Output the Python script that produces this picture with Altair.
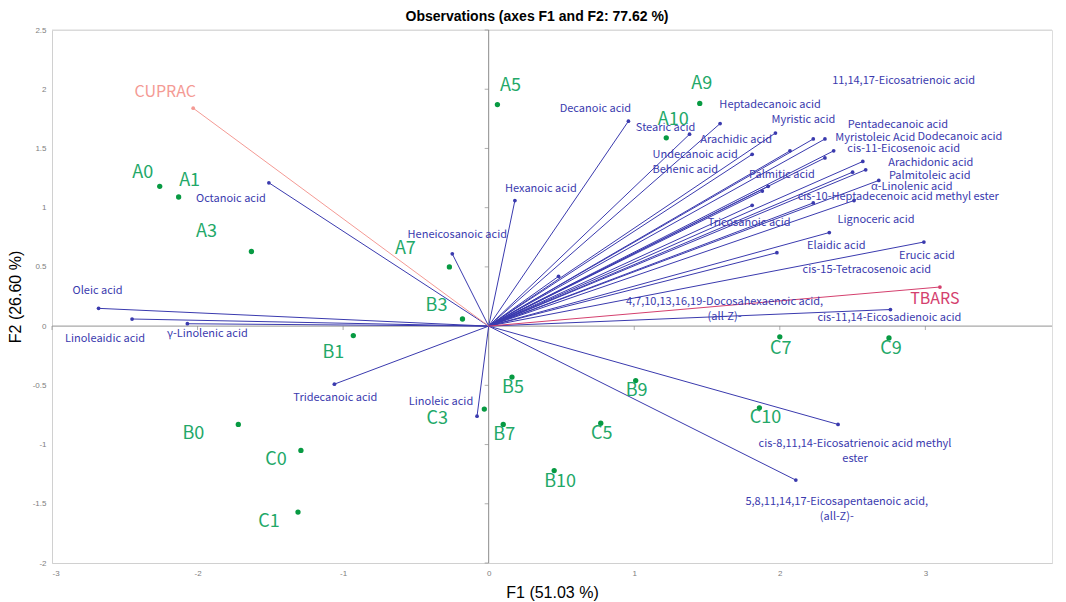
import altair as alt
import pandas as pd

# ---------------- data ----------------
obs_names = ["A0", "A1", "A3", "A5", "A7", "A9", "A10",
             "B0", "B1", "B3", "B5", "B7", "B9", "B10",
             "C0", "C1", "C3", "C5", "C7", "C9", "C10"]
obs_f1 = [-2.26, -2.13, -1.63, 0.06, -0.27, 1.45, 1.22,
          -1.72, -0.93, -0.18, 0.16, 0.10, 1.01, 0.45,
          -1.29, -1.31, -0.03, 0.77, 2.00, 2.75, 1.86]
obs_f2 = [1.18, 1.09, 0.63, 1.87, 0.50, 1.88, 1.59,
          -0.83, -0.08, 0.06, -0.43, -0.83, -0.46, -1.22,
          -1.05, -1.57, -0.70, -0.82, -0.09, -0.10, -0.69]

var_names = [
    "Oleic acid", "Linoleaidic acid", "γ-Linolenic acid", "Octanoic acid",
    "Tridecanoic acid", "Linoleic acid", "Heneicosanoic acid", "Hexanoic acid",
    "Decanoic acid", "Stearic acid", "Heptadecanoic acid", "Myristic acid",
    "Arachidic acid", "Undecanoic acid", "Behenic acid", "Myristoleic Acid",
    "Pentadecanoic acid", "Dodecanoic acid", "cis-11-Eicosenoic acid", "Palmitic acid",
    "Arachidonic acid", "Palmitoleic acid", "11,14,17-Eicosatrienoic acid", "α-Linolenic acid",
    "cis-10-Heptadecenoic acid methyl ester", "Lignoceric acid", "Tricosanoic acid", "Elaidic acid",
    "Erucic acid", "cis-15-Tetracosenoic acid", "4,7,10,13,16,19-Docosahexaenoic acid,\n(all-Z)-",
    "cis-11,14-Eicosadienoic acid", "cis-8,11,14-Eicosatrienoic acid methyl\nester",
    "5,8,11,14,17-Eicosapentaenoic acid,\n(all-Z)-", "CUPRAC", "TBARS"]
var_f1 = [-2.68, -2.45, -2.07, -1.51,
          -1.06, -0.08, -0.25, 0.18,
          0.96, 1.38, 1.59, 1.97,
          1.81, 1.92, 1.88, 2.23,
          2.31, 2.31, 2.37, 2.07,
          2.57, 2.59, 2.50, 2.68,
          2.23, 2.51, 1.81, 2.34,
          2.99, 1.98, 0.48,
          2.76, 2.40,
          2.11, -2.03, 3.10]
var_f2 = [0.15, 0.06, 0.02, 1.21,
          -0.49, -0.76, 0.61, 1.06,
          1.73, 1.62, 1.71, 1.63,
          1.45, 1.18, 1.14, 1.58,
          1.58, 1.42, 1.48, 1.48,
          1.39, 1.32, 1.30, 1.23,
          1.04, 1.06, 1.02, 0.79,
          0.71, 0.62, 0.42,
          0.14, -0.83,
          -1.30, 1.84, 0.33]
var_group = ["acid"] * 34 + ["CUPRAC", "TBARS"]

x_ticks = [-3, -2, -1, 0, 1, 2, 3]
y_ticks = [-2, -1.5, -1, -0.5, 0, 0.5, 1, 1.5, 2, 2.5]

# ---------------- layout (label placement, pixels) ----------------
obs_label_dx = [-17, 11, -45, 13, -44, 2, 7,
                -45, -20, -26, 1, 1, 1, 6,
                -25, -29, -47, 1, 1, 2, 6]
obs_label_dy = [-13, -16, -19, -19, -18, -19, -18,
                10, 17, -13, 11, 11, 10, 11,
                10, 10, 10, 11, 12, 11, 10]
var_label_dx = [-1, -27, 20, -38,
                1, -36, 5, 26,
                -33, -24, 50, 28,
                -16, -73, -77, 62,
                73, 135, 70, -8,
                68, 64, 51, 33,
                85, 22, -3, 7,
                3, 90, 166,
                -1, 17,
                41, -28, -5]
var_label_dy = [-17, 20, 10, 16,
                14, -14, -19, -12,
                -12, -6, -19, -13,
                -14, -31, -21, -1,
                -14, -21, -2, 24,
                2, 6, -91, 7,
                -6, 19, 18, 13,
                14, 17, 26,
                8, 20,
                22, -16, 12]

XMIN, XMAX = -3, 3.87
YMIN, YMAX = -2, 2.5
W, H = 1000, 533
PX_X = W / (XMAX - XMIN)
PX_Y = H / (YMAX - YMIN)

obs = pd.DataFrame({"name": obs_names, "f1": obs_f1, "f2": obs_f2,
                    "dx": obs_label_dx, "dy": obs_label_dy})
var = pd.DataFrame({"name": var_names, "f1": var_f1, "f2": var_f2, "group": var_group,
                    "dx": var_label_dx, "dy": var_label_dy})
xt = pd.DataFrame({"v": x_ticks})
yt = pd.DataFrame({"v": y_ticks})

xs = alt.Scale(domain=[XMIN, XMAX], nice=False, zero=False)
ys = alt.Scale(domain=[YMIN, YMAX], nice=False, zero=False)

FONT = "Noto Sans CJK SC"
label_expr = "replace(datum.label, '\u2212', '-')"

X = alt.X("f1:Q", scale=xs,
          axis=alt.Axis(values=x_ticks, format="~g", title="F1 (51.03 %)", grid=False, ticks=False,
                        domainColor="#d0d0d0", labelColor="#808080", labelFontSize=8,
                        labelFont="Liberation Sans", labelPadding=6, labelExpr=label_expr,
                        titleFont="Liberation Sans", titleFontSize=16, titleFontWeight="normal",
                        titleColor="#000000", titlePadding=7))
Y = alt.Y("f2:Q", scale=ys,
          axis=alt.Axis(values=y_ticks, format="~g", title="F2 (26.60 %)", grid=False, ticks=False,
                        domainColor="#d0d0d0", labelColor="#808080", labelFontSize=8,
                        labelFont="Liberation Sans", labelPadding=6, labelExpr=label_expr,
                        titleFont="Liberation Sans", titleFontSize=16, titleFontWeight="normal",
                        titleColor="#000000", titlePadding=9))

line_color = alt.Color("group:N", legend=None,
                       scale=alt.Scale(domain=["acid", "CUPRAC", "TBARS"],
                                       range=["#3a3aae", "#f49a94", "#d4406e"]))
dot_color = alt.Color("group:N", legend=None,
                      scale=alt.Scale(domain=["acid", "CUPRAC", "TBARS"],
                                      range=["#0c0c7a", "#f04848", "#b0124c"]))
text_color = alt.Color("group:N", legend=None,
                       scale=alt.Scale(domain=["acid", "CUPRAC", "TBARS"],
                                       range=["#4338b8", "#f4605c", "#c01858"]))

base_var = alt.Chart(var)
base_obs = alt.Chart(obs)

# frame top line
top_line = alt.Chart(pd.DataFrame({"v": [YMAX]})).mark_rule(color="#d8d8d8", strokeWidth=1).encode(
    y=alt.Y("v:Q", scale=ys))

# central axes
vzero = alt.Chart(pd.DataFrame({"v": [0]})).mark_rule(color="#8c8c8c", strokeWidth=1).encode(
    x=alt.X("v:Q", scale=xs))
hzero = alt.Chart(pd.DataFrame({"v": [0]})).mark_rule(color="#a8a8a8", strokeWidth=1.2).encode(
    y=alt.Y("v:Q", scale=ys))
vticks = alt.Chart(yt).mark_tick(orient="horizontal", size=4, thickness=1, color="#8c8c8c",
                                 xOffset=-2).encode(
    y=alt.Y("v:Q", scale=ys), x=alt.datum(0, scale=xs))
hticks = alt.Chart(xt).mark_tick(orient="vertical", size=4, thickness=1, color="#8c8c8c",
                                 yOffset=2).encode(
    x=alt.X("v:Q", scale=xs), y=alt.datum(0, scale=ys))

vectors = base_var.transform_calculate(zero="0").mark_rule(strokeWidth=1).encode(
    x=X, y=Y, x2="zero:Q", y2="zero:Q", color=line_color)
var_dots = base_var.mark_circle(size=14, opacity=1).encode(x="f1:Q", y="f2:Q", color=dot_color)
var_labels = base_var.transform_calculate(
    lx=f"datum.f1 + datum.dx / {PX_X}", ly=f"datum.f2 - datum.dy / {PX_Y}"
).mark_text(font=FONT, fontSize=11, lineBreak="\n", lineHeight=15, align="center",
            baseline="middle").encode(
    x=alt.X("lx:Q", scale=xs), y=alt.Y("ly:Q", scale=ys), text="name:N",
    color=text_color,
    size=alt.condition("datum.group == 'acid'", alt.value(11), alt.value(16)))

obs_dots = base_obs.mark_circle(size=28, color="#079a42", opacity=1).encode(x="f1:Q", y="f2:Q")
obs_labels = base_obs.transform_calculate(
    lx=f"datum.f1 + datum.dx / {PX_X}", ly=f"datum.f2 - datum.dy / {PX_Y}"
).mark_text(font=FONT, fontSize=18, color="#22a868", align="center", baseline="middle").encode(
    x=alt.X("lx:Q", scale=xs), y=alt.Y("ly:Q", scale=ys), text="name:N")

chart = alt.layer(
    top_line, hzero, vzero, vticks, hticks, vectors, var_dots, var_labels, obs_dots, obs_labels
).properties(
    width=W, height=H,
    title=alt.TitleParams("Observations (axes F1 and F2: 77.62 %)", font="Liberation Sans",
                          fontSize=14, fontWeight="bold", color="#000000", anchor="middle",
                          dx=-15, offset=2),
    padding={"left": 44, "top": 22, "right": 6, "bottom": 39},
    autosize=alt.AutoSizeParams(type="none"),
).configure_view(strokeWidth=0, stroke="transparent").configure(background="white")

chart.save("out.html", embed_options={"renderer": "svg", "actions": False})
